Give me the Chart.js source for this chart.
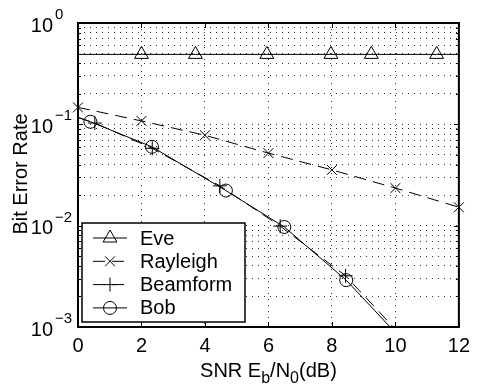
<!DOCTYPE html>
<html>
<head>
<meta charset="utf-8">
<script src="https://cdn.jsdelivr.net/npm/chart.js@4.4.0/dist/chart.umd.min.js"></script>
<style>
  body { margin: 0; background: #fff; }
  #wrap { width: 477px; height: 388px; }
</style>
</head>
<body>
<div id="wrap"><canvas id="berChart"></canvas></div>
<script>
// axis ticks
const xTicks = [0, 2, 4, 6, 8, 10, 12];
const yDecades = [-3, -2, -1, 0];

// Eve: flat curve, markers only on the inner points
const eveX = [0, 2, 3.7, 5.95, 7.97, 9.24, 11.3, 12];
const eveY = [0.49, 0.49, 0.49, 0.49, 0.49, 0.49, 0.49, 0.49];
const eveMarks = [0, 1, 1, 1, 1, 1, 1, 0];

const rayleighX = [0, 2, 4, 6, 8, 10, 12];
const rayleighY = [0.147, 0.108, 0.078, 0.052, 0.0355, 0.0235, 0.0152];

const beamX = [0, 0.53, 2.34, 4.47, 6.37, 8.43, 10];
const beamY = [0.117, 0.103, 0.058, 0.0247, 0.0099, 0.0032, 0.00095];
const beamMarks = [0, 1, 1, 1, 1, 1, 0];

const bobX = [0, 0.39, 2.33, 4.66, 6.5, 8.45, 10];
const bobY = [0.117, 0.106, 0.060, 0.0222, 0.0097, 0.0029, 0.00088];
const bobMarks = [0, 1, 1, 1, 1, 1, 0];

const FONT = "'Liberation Sans', Arial, sans-serif";
const DASH = [12, 7];

// y grid at 1..9 x 10^k
const yTickValues = [];
yDecades.forEach(d => {
  for (let m = 1; m <= 9; m++) {
    if (d === 0 && m > 1) break;
    yTickValues.push(m * Math.pow(10, d));
  }
});

function pts(xs, ys) {
  return xs.map((x, i) => ({ x: x, y: ys[i] }));
}

const datasets = [
  {
    label: 'Eve', data: pts(eveX, eveY),
    borderColor: '#000', borderWidth: 1, pointStyle: 'triangle',
    pointRadius: eveMarks.map(m => m ? 8 : 0),
    pointBorderColor: '#000', pointBackgroundColor: 'rgba(0,0,0,0)', pointBorderWidth: 1
  },
  {
    label: 'Rayleigh', data: pts(rayleighX, rayleighY),
    borderColor: '#000', borderWidth: 1, borderDash: DASH, pointStyle: 'crossRot',
    pointRadius: 7, pointBorderColor: '#000', pointBorderWidth: 1, clip: false
  },
  {
    label: 'Beamform', data: pts(beamX, beamY),
    borderColor: '#000', borderWidth: 1, borderDash: DASH, pointStyle: 'cross',
    pointRadius: beamMarks.map(m => m ? 7 : 0), pointBorderColor: '#000', pointBorderWidth: 1
  },
  {
    label: 'Bob', data: pts(bobX, bobY),
    borderColor: '#000', borderWidth: 1, pointStyle: 'circle',
    pointRadius: bobMarks.map(m => m ? 6.5 : 0),
    pointBorderColor: '#000', pointBackgroundColor: 'rgba(0,0,0,0)', pointBorderWidth: 1
  }
];

// legend inside the plot, drawn on top of the curves
const boxLegend = {
  id: 'boxLegend',
  afterDatasetsDraw(chart) {
    const ctx = chart.ctx;
    ctx.save();
    ctx.fillStyle = '#fff';
    ctx.fillRect(82, 223, 163, 99);
    ctx.strokeStyle = '#000';
    ctx.lineWidth = 1.5;
    ctx.strokeRect(82, 223, 163, 99);
    chart.data.datasets.forEach((ds, i) => {
      const y = 238 + i * 23.3;
      ctx.strokeStyle = '#000';
      ctx.lineWidth = 1;
      ctx.setLineDash(ds.borderDash || []);
      ctx.beginPath();
      ctx.moveTo(93, y);
      ctx.lineTo(127, y);
      ctx.stroke();
      ctx.setLineDash([]);
      ctx.fillStyle = 'rgba(0,0,0,0)';
      const r = Array.isArray(ds.pointRadius) ? Math.max(...ds.pointRadius) : ds.pointRadius;
      Chart.helpers.drawPoint(ctx, { pointStyle: ds.pointStyle, radius: r, borderWidth: 1, rotation: 0 }, 110, y);
      ctx.fillStyle = '#000';
      ctx.font = '20px ' + FONT;
      ctx.textAlign = 'left';
      ctx.textBaseline = 'middle';
      ctx.fillText(ds.label, 140, y + 1);
    });
    ctx.restore();
  }
};

// matlab style box, inner ticks, 10^k labels and axis titles
const matlabAxes = {
  id: 'matlabAxes',
  afterDraw(chart) {
    const ctx = chart.ctx;
    const a = chart.chartArea;
    const xs = chart.scales.x, ys = chart.scales.y;
    ctx.save();
    ctx.strokeStyle = '#000';
    ctx.lineWidth = 1;
    ctx.beginPath();
    xTicks.forEach(v => {
      const x = Math.round(xs.getPixelForValue(v)) + 0.5;
      ctx.moveTo(x, a.bottom); ctx.lineTo(x, a.bottom - 5);
      ctx.moveTo(x, a.top); ctx.lineTo(x, a.top + 5);
    });
    yTickValues.forEach(v => {
      const y = Math.round(ys.getPixelForValue(v)) + 0.5;
      const major = Math.abs(Math.log10(v) - Math.round(Math.log10(v))) < 1e-9;
      const len = major ? 5 : 3;
      ctx.moveTo(a.left, y); ctx.lineTo(a.left + len, y);
      ctx.moveTo(a.right, y); ctx.lineTo(a.right - len, y);
    });
    ctx.stroke();

    ctx.lineWidth = 2;
    ctx.strokeRect(a.left, a.top, a.right - a.left, a.bottom - a.top);

    ctx.fillStyle = '#000';
    yDecades.forEach(d => {
      const y = ys.getPixelForValue(Math.pow(10, d));
      ctx.font = '20px ' + FONT;
      ctx.textAlign = 'right';
      ctx.textBaseline = 'middle';
      ctx.fillText('10', 53, y + 3);
      ctx.font = '15px ' + FONT;
      ctx.textAlign = 'left';
      ctx.fillText(d < 0 ? '\u2212' + (-d) : String(d), 55, y - 8);
    });

    // y title
    ctx.save();
    ctx.translate(27, 174);
    ctx.rotate(-Math.PI / 2);
    ctx.font = '20px ' + FONT;
    ctx.textAlign = 'center';
    ctx.textBaseline = 'alphabetic';
    ctx.fillText('Bit Error Rate', 0, 0);
    ctx.restore();

    // x title with subscripts
    const parts = [
      ['SNR E', 20, 0], ['b', 16, 6], ['/N', 20, 0], ['0', 16, 6], ['(dB)', 20, 0]
    ];
    let w = 0;
    parts.forEach(p => { ctx.font = p[1] + 'px ' + FONT; w += ctx.measureText(p[0]).width; });
    let x = (a.left + a.right) / 2 - w / 2;
    ctx.textAlign = 'left';
    ctx.textBaseline = 'alphabetic';
    parts.forEach(p => {
      ctx.font = p[1] + 'px ' + FONT;
      ctx.fillText(p[0], x, 377 + p[2]);
      x += ctx.measureText(p[0]).width;
    });
    ctx.restore();
  }
};

const ctx = document.getElementById('berChart').getContext('2d');
new Chart(ctx, {
  type: 'line',
  data: { datasets: datasets },
  options: {
    responsive: true,
    maintainAspectRatio: false,
    animation: false,
    layout: { padding: { left: 0, right: 12, top: 23, bottom: 0 } },
    plugins: { legend: { display: false }, tooltip: { enabled: false } },
    scales: {
      x: {
        type: 'linear', min: 0, max: 12,
        afterBuildTicks: s => { s.ticks = xTicks.map(v => ({ value: v })); },
        afterFit: s => { s.height = 61; },
        grid: { color: '#333', lineWidth: 1, drawTicks: false, borderDash: [1, 5] },
        border: { display: false, dash: [1, 5] },
        ticks: { color: '#000', font: { family: FONT, size: 20 }, padding: 7, maxRotation: 0 }
      },
      y: {
        type: 'logarithmic', min: 0.001, max: 1,
        afterBuildTicks: s => { s.ticks = yTickValues.map(v => ({ value: v })); },
        afterFit: s => { s.width = 78; },
        grid: { color: '#333', lineWidth: 1, drawTicks: false, borderDash: [1, 5] },
        border: { display: false, dash: [1, 5] },
        ticks: { display: false }
      }
    }
  },
  plugins: [boxLegend, matlabAxes]
});
</script>
</body>
</html>
